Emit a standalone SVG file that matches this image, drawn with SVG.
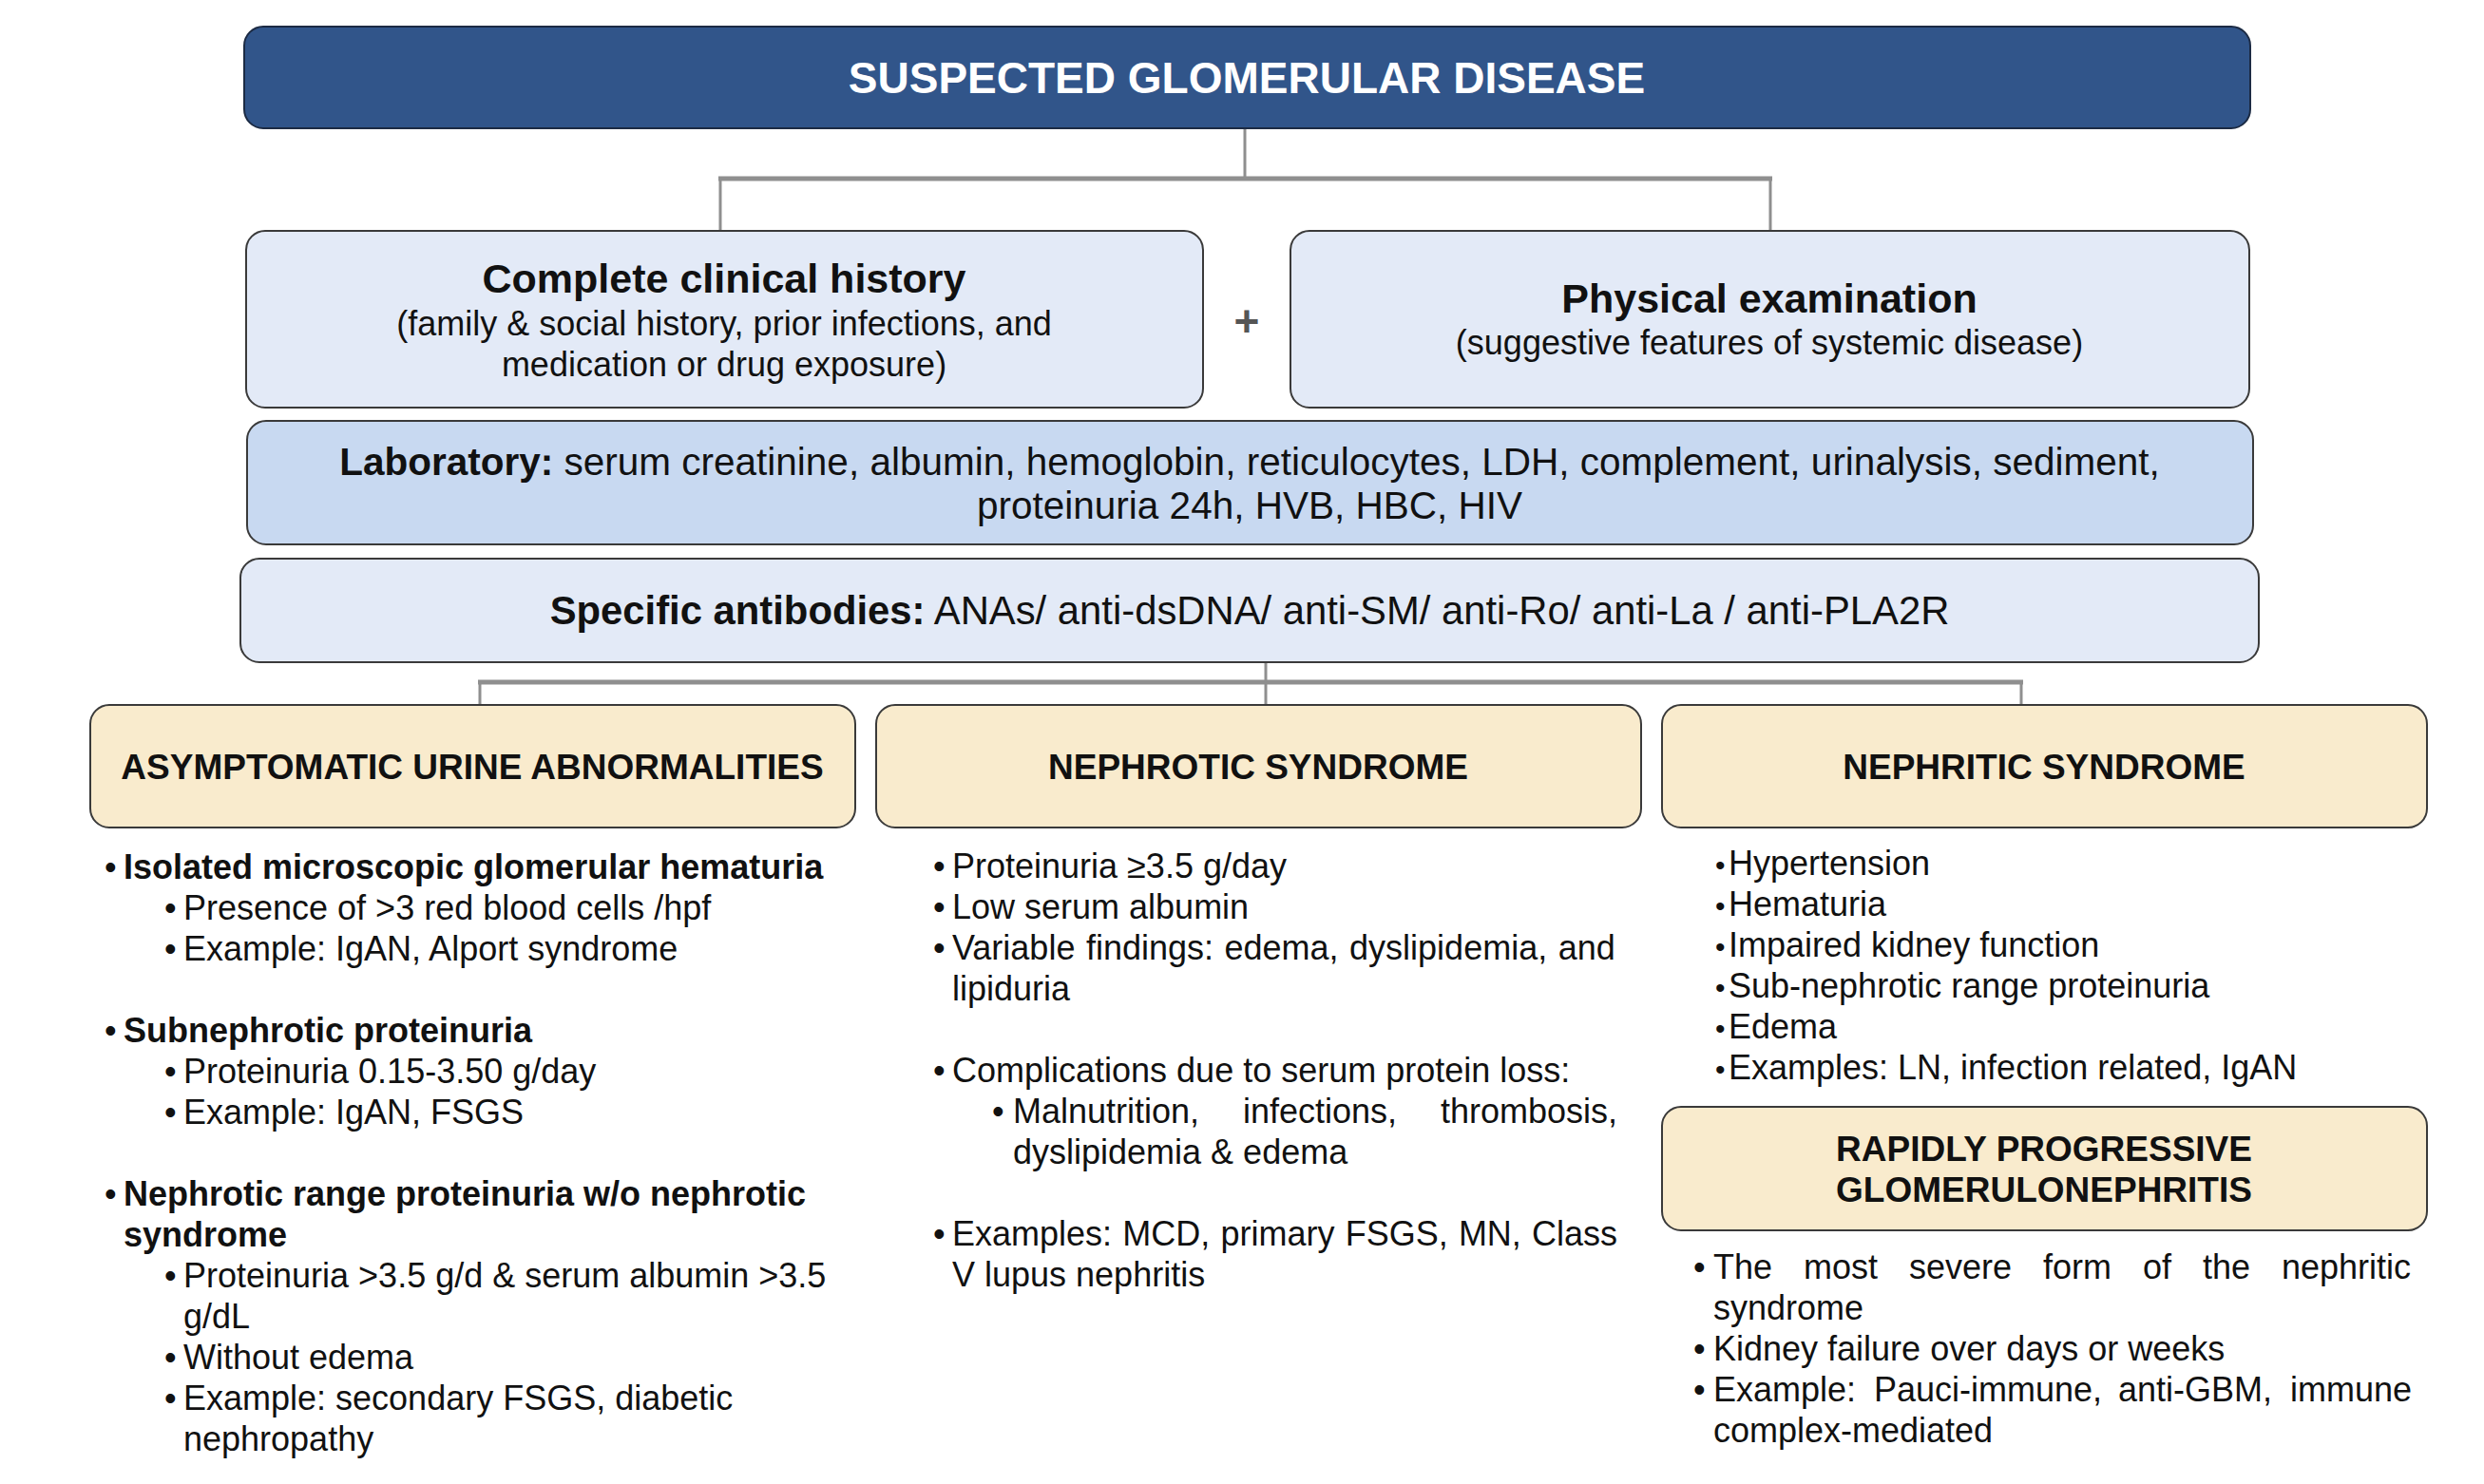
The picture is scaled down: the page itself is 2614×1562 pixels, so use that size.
<svg xmlns="http://www.w3.org/2000/svg" width="2614" height="1562" viewBox="0 0 2614 1562">
<style>
text{font-family:"Liberation Sans",Arial,Helvetica,sans-serif;fill:#111}
.b{font-weight:bold}
.c{text-anchor:middle}
.f36{font-size:36px}
.f37{font-size:37px}
.f40{font-size:40.5px}
.f42{font-size:41.8px}
.f43{font-size:43px}
.box{stroke:#3a3a3a;stroke-width:2}
.hist{fill:#E3EAF7}
.lab{fill:#C8D9F1}
.cat{fill:#F9EBCD}
.con{stroke:#8F8F8F;fill:none}
</style>
<rect width="2614" height="1562" fill="#fff"/>

<g id="connectors">
<path class="con" stroke-width="3" d="M1310 136V188M758 188V243M1863 188V243"/>
<path class="con" stroke-width="5" d="M756 188H1865"/>
<path class="con" stroke-width="3" d="M1332 694V742M505 718V742M2127 718V742"/>
<path class="con" stroke-width="5" d="M503 718H2129"/>
</g>

<g id="title">
<rect x="257" y="28" width="2111" height="107" rx="20" fill="#31558A" stroke="#1C2B44" stroke-width="2"/>
<text class="b c" x="1312" y="98" style="font-size:46px;fill:#fff">SUSPECTED GLOMERULAR DISEASE</text>
</g>

<g id="history">
<rect class="box hist" x="259" y="243" width="1007" height="186" rx="20"/>
<text class="b c f43" x="762" y="308">Complete clinical history</text>
<text class="c f36" x="762" y="353">(family &amp; social history, prior infections, and</text>
<text class="c f36" x="762" y="396">medication or drug exposure)</text>
</g>

<g id="plus">
<text class="b c" x="1312" y="354" style="font-size:46px;fill:#555">+</text>
</g>

<g id="physical">
<rect class="box hist" x="1358" y="243" width="1009" height="186" rx="20"/>
<text class="b c f43" x="1862" y="329">Physical examination</text>
<text class="c f36" x="1862" y="373">(suggestive features of systemic disease)</text>
</g>

<g id="laboratory">
<rect class="box lab" x="260" y="443" width="2111" height="130" rx="20"/>
<text class="c f40" x="1315" y="500"><tspan class="b">Laboratory:</tspan> serum creatinine, albumin, hemoglobin, reticulocytes, LDH, complement, urinalysis, sediment,</text>
<text class="c f40" x="1315" y="546">proteinuria 24h, HVB, HBC, HIV</text>
</g>

<g id="antibodies">
<rect class="box hist" x="253" y="588" width="2124" height="109" rx="20"/>
<text class="c f42" x="1315" y="657"><tspan class="b">Specific antibodies:</tspan> ANAs/ anti-dsDNA/ anti-SM/ anti-Ro/ anti-La / anti-PLA2R</text>
</g>

<g id="asymptomatic">
<rect class="box cat" x="95" y="742" width="805" height="129" rx="20"/>
<text class="b c f37" x="497" y="820">ASYMPTOMATIC URINE ABNORMALITIES</text>
<g class="f36">
<text x="110" y="925">•</text><text class="b" x="130" y="925">Isolated microscopic glomerular hematuria</text>
<text x="173" y="968">•</text><text x="193" y="968">Presence of &gt;3 red blood cells /hpf</text>
<text x="173" y="1011">•</text><text x="193" y="1011">Example: IgAN, Alport syndrome</text>
<text x="110" y="1097">•</text><text class="b" x="130" y="1097">Subnephrotic proteinuria</text>
<text x="173" y="1140">•</text><text x="193" y="1140">Proteinuria 0.15-3.50 g/day</text>
<text x="173" y="1183">•</text><text x="193" y="1183">Example: IgAN, FSGS</text>
<text x="110" y="1269">•</text><text class="b" x="130" y="1269">Nephrotic range proteinuria w/o nephrotic</text>
<text class="b" x="130" y="1312">syndrome</text>
<text x="173" y="1355">•</text><text x="193" y="1355">Proteinuria &gt;3.5 g/d &amp; serum albumin &gt;3.5</text>
<text x="193" y="1398">g/dL</text>
<text x="173" y="1441">•</text><text x="193" y="1441">Without edema</text>
<text x="173" y="1484">•</text><text x="193" y="1484">Example: secondary FSGS, diabetic</text>
<text x="193" y="1527">nephropathy</text>
</g>
</g>

<g id="nephrotic">
<rect class="box cat" x="922" y="742" width="805" height="129" rx="20"/>
<text class="b c f37" x="1324" y="820">NEPHROTIC SYNDROME</text>
<g class="f36">
<text x="982" y="924">•</text><text x="1002" y="924">Proteinuria ≥3.5 g/day</text>
<text x="982" y="967">•</text><text x="1002" y="967">Low serum albumin</text>
<text x="982" y="1010">•</text><text x="1002" y="1010" style="word-spacing:1.5px">Variable findings: edema, dyslipidemia, and</text>
<text x="1002" y="1053">lipiduria</text>
<text x="982" y="1139">•</text><text x="1002" y="1139">Complications due to serum protein loss:</text>
<text x="1044" y="1182">•</text><text y="1182"><tspan x="1066">Malnutrition,</tspan><tspan x="1308">infections,</tspan><tspan x="1516">thrombosis,</tspan></text>
<text x="1066" y="1225">dyslipidemia &amp; edema</text>
<text x="982" y="1311">•</text><text x="1002" y="1311" style="word-spacing:1.2px">Examples: MCD, primary FSGS, MN, Class</text>
<text x="1002" y="1354">V lupus nephritis</text>
</g>
</g>

<g id="nephritic">
<rect class="box cat" x="1749" y="742" width="805" height="129" rx="20"/>
<text class="b c f37" x="2151" y="820">NEPHRITIC SYNDROME</text>
<g class="f36">
<text x="1805" y="921" style="font-size:30px">•</text><text x="1819" y="921">Hypertension</text>
<text x="1805" y="964" style="font-size:30px">•</text><text x="1819" y="964">Hematuria</text>
<text x="1805" y="1007" style="font-size:30px">•</text><text x="1819" y="1007">Impaired kidney function</text>
<text x="1805" y="1050" style="font-size:30px">•</text><text x="1819" y="1050">Sub-nephrotic range proteinuria</text>
<text x="1805" y="1093" style="font-size:30px">•</text><text x="1819" y="1093">Edema</text>
<text x="1805" y="1136" style="font-size:30px">•</text><text x="1819" y="1136">Examples: LN, infection related, IgAN</text>
</g>
</g>

<g id="rpgn">
<rect class="box cat" x="1749" y="1165" width="805" height="130" rx="20"/>
<text class="b c f37" x="2151" y="1222">RAPIDLY PROGRESSIVE</text>
<text class="b c f37" x="2151" y="1265">GLOMERULONEPHRITIS</text>
<g class="f36">
<text x="1782" y="1346">•</text><text y="1346"><tspan x="1803">The</tspan><tspan x="1898">most</tspan><tspan x="2009">severe</tspan><tspan x="2150">form</tspan><tspan x="2255">of</tspan><tspan x="2318">the</tspan><tspan x="2401">nephritic</tspan></text>
<text x="1803" y="1389">syndrome</text>
<text x="1782" y="1432">•</text><text x="1803" y="1432">Kidney failure over days or weeks</text>
<text x="1782" y="1475">•</text><text y="1475"><tspan x="1803">Example:</tspan><tspan x="1972">Pauci-immune,</tspan><tspan x="2229">anti-GBM,</tspan><tspan x="2410">immune</tspan></text>
<text x="1803" y="1518">complex-mediated</text>
</g>
</g>
</svg>
